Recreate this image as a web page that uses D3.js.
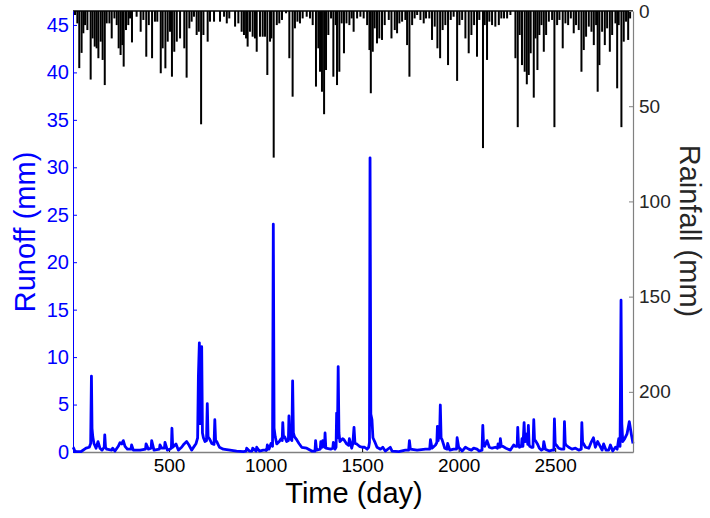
<!DOCTYPE html>
<html>
<meta charset="utf-8">
<title>Runoff and rainfall</title>
<style>
  body { margin: 0; background: #fff; }
  svg text { font-family: "Liberation Sans", Arial, sans-serif; }
  .runoff-line { fill: none; stroke: #0000ff; stroke-width: 2.8; stroke-linejoin: round; }
</style>
<body>
<div id="chart"></div>
<script src="https://d3js.org/d3.v7.min.js"></script>
<script>
var rainfall = [
  [13,2.1],[25,6.5],[35,30],[47,22],[56,11.7],[65,7.4],[77,10],[94,36],[104,14.4],[115,18.7],
  [125,19.6],[134,24.8],[146,16.1],[156,25.7],[167,38.9],[177,6.5],[191,6.5],[203,14.4],[217,3.9],[229,7.4],
  [239,19.6],[249,23.1],[258,17.9],[265,29.2],[277,10],[289,7.4],[298,3.9],[308,16.5],[332,3],[353,10.9],
  [367,4.7],[382,24],[395,7.4],[412,24.8],[427,5.6],[439,5.6],[457,32.7],[467,19.6],[481,30.1],[493,16.1],
  [505,10.9],[515,34.5],[527,21.4],[540,16.1],[557,14.4],[579,19.6],[591,35],[605,9.1],[617,5.6],[629,3],
  [643,12.6],[654,10.9],[666,59.5],[678,12.6],[700,16.1],[712,5.6],[733,5.6],[764,5.6],[785,3],[799,6.5],
  [812,3.9],[842,8.2],[859,6.5],[876,10.9],[888,12.6],[899,14.4],[907,18.7],[919,10.9],[933,13.5],[945,14.4],
  [954,21.4],[971,13.5],[985,13.5],[997,13.5],[1009,33.6],[1023,16.1],[1030,14.4],[1042,77],[1058,7.4],[1071,6.5],
  [1085,4.7],[1106,1.2],[1123,24.8],[1140,45],[1152,9.1],[1165,5.6],[1178,6.5],[1192,3.9],[1213,3],[1230,3.9],
  [1244,7.4],[1261,39.7],[1273,19.6],[1282,31.9],[1292,42.4],[1303,54.2],[1313,31],[1325,12.6],[1339,3.9],[1351,34.5],
  [1363,7.4],[1370,38.9],[1382,31.9],[1394,6.5],[1406,22.2],[1419,6.5],[1434,7.4],[1446,3.9],[1456,10.9],[1474,3.9],
  [1491,3],[1508,3.9],[1526,7.4],[1538,20.5],[1545,43.2],[1555,21.4],[1565,9.1],[1577,17],[1589,14.4],[1603,15.2],
  [1617,7.4],[1638,4.7],[1652,14.4],[1669,10],[1681,11.7],[1693,6.5],[1707,5.6],[1724,4.7],[1733,17.9],[1745,34.5],
  [1759,7.4],[1772,3.9],[1785,2.1],[1802,4.7],[1819,6.5],[1831,3.9],[1848,3.9],[1862,15.2],[1876,8.2],[1890,19.6],
  [1904,24.8],[1917,10],[1931,7.4],[1945,28.4],[1959,4.7],[1974,3],[1992,36.7],[2004,7.4],[2018,4.7],[2035,14.4],
  [2052,22.2],[2066,12.6],[2080,7.4],[2095,24],[2107,4.7],[2126,72],[2135,7.4],[2147,25.7],[2159,5.6],[2173,7.4],
  [2190,8.2],[2208,7.4],[2221,3.9],[2235,3.9],[2251,3.9],[2268,2.1],[2294,24.8],[2306,61],[2316,12.6],[2328,28.4],
  [2342,31.9],[2353,38.5],[2363,33.6],[2373,22.2],[2389,45.5],[2398,14.4],[2408,31],[2418,12.6],[2429,7.4],[2441,21.4],
  [2453,12.6],[2467,5.6],[2484,4.7],[2496,61],[2510,7.4],[2522,4.7],[2539,19.6],[2553,6.5],[2567,7.4],[2581,3.9],
  [2596,11.7],[2608,7.4],[2622,10],[2636,31.9],[2648,20.5],[2660,13.5],[2674,8.2],[2688,10.9],[2700,17.9],[2712,7.4],
  [2720,42.4],[2729,28.4],[2743,10.9],[2757,17.9],[2769,9.1],[2783,21.4],[2795,12.6],[2812,6.5],[2821,40.6],[2829,7.4],
  [2843,61],[2855,16.1],[2867,5.6],[2878,15.2],[2888,3.9]
];

// simulated runoff (day, mm)
var runoff = [
  [3,0.5],[6,0.4],[12,0.1],[22,0.03],[45,0.05],[70,0.4],[87,0.5],[94,0.9],[98,8.0],[101,2.5],
  [105,1.6],[111,0.9],[122,0.4],[132,1.1],[142,0.4],[153,0.2],[164,0.5],[167,1.8],[171,0.5],[177,0.3],
  [203,0.2],[208,0.4],[220,0.1],[237,0.6],[246,0.98],[255,0.85],[263,1.2],[272,0.6],[284,0.3],[303,0.3],
  [306,0.74],[315,0.2],[350,0.2],[378,0.3],[381,0.85],[393,0.3],[407,0.4],[410,1.2],[422,0.2],[450,0.3],
  [453,0.74],[462,0.4],[476,0.4],[479,1.0],[491,0.2],[505,0.3],[512,0.4],[515,2.5],[519,0.5],[536,0.85],
  [548,0.2],[565,0.5],[578,0.85],[591,1.1],[603,0.74],[617,0.2],[640,0.9],[648,1.5],[652,8],[657,11.5],
  [661,3],[665,3],[669,11.1],[673,2],[678,1.5],[686,1.1],[694,1.2],[698,5.1],[702,1.6],[709,1.4],
  [721,0.9],[733,0.8],[737,3.4],[741,1.2],[747,1.1],[761,0.5],[781,0.3],[816,0.2],[850,0.1],[885,0.05],
  [899,0.1],[902,0.4],[916,0.1],[930,0.1],[933,0.4],[945,0.2],[951,0.1],[954,0.5],[968,0.1],[988,0.2],
  [1006,0.2],[1009,0.74],[1018,0.3],[1028,0.9],[1036,0.6],[1040,24],[1044,2.5],[1050,1.6],[1058,0.85],[1071,1.1],
  [1080,1.4],[1086,1.2],[1089,3.1],[1093,1.5],[1099,1.6],[1109,1.1],[1118,1.2],[1121,3.8],[1125,1.5],[1130,1.4],
  [1136,1.2],[1140,7.5],[1144,2],[1150,1.6],[1161,1.3],[1173,0.9],[1187,0.5],[1213,0.4],[1239,0.1],[1256,0.1],
  [1259,1.2],[1264,0.2],[1283,0.3],[1286,1.1],[1292,0.5],[1296,1.2],[1305,0.5],[1308,2.0],[1312,0.4],[1337,0.3],
  [1348,0.4],[1351,1.0],[1359,0.3],[1365,0.5],[1368,4.1],[1372,1.5],[1376,9],[1380,2],[1385,1.1],[1399,1.4],
  [1406,1.3],[1420,0.85],[1430,0.7],[1434,1.4],[1446,0.4],[1452,0.9],[1458,2.6],[1463,0.9],[1472,0.85],[1486,0.6],
  [1500,0.5],[1513,0.5],[1526,0.3],[1534,0.5],[1538,1.0],[1541,31],[1545,4],[1551,3.4],[1556,1.5],[1565,1.1],
  [1577,0.5],[1595,0.3],[1607,0.5],[1620,0.1],[1646,0.5],[1655,0.1],[1690,0.05],[1724,0.2],[1741,0.2],[1745,1.2],
  [1750,0.3],[1785,0.2],[1828,0.3],[1850,0.3],[1854,1.3],[1862,0.4],[1880,0.74],[1887,1.0],[1890,2.7],[1894,1.2],
  [1897,2.5],[1901,1.5],[1905,4.95],[1909,1.5],[1914,1.3],[1928,0.4],[1940,0.3],[1943,0.9],[1954,0.2],[1974,0.3],
  [1989,0.3],[1992,1.5],[2000,0.5],[2018,0.1],[2035,0.5],[2052,0.3],[2066,0.2],[2078,0.4],[2095,0.3],[2107,0.1],
  [2121,0.2],[2125,2.8],[2129,0.8],[2135,0.6],[2147,1.2],[2159,0.5],[2173,0.4],[2190,0.5],[2201,0.4],[2204,0.85],
  [2213,0.5],[2216,1.4],[2221,0.6],[2228,0.6],[2245,0.4],[2268,0.2],[2285,0.74],[2294,0.6],[2303,0.6],[2306,2.6],
  [2310,0.8],[2315,0.5],[2325,0.6],[2328,1.4],[2333,0.6],[2339,3.1],[2343,1.1],[2346,1.1],[2353,1.9],[2358,0.8],
  [2361,2.8],[2365,0.8],[2368,0.6],[2377,0.5],[2385,0.5],[2389,3.4],[2393,1.2],[2398,1.2],[2408,0.85],[2418,0.4],
  [2429,0.2],[2437,0.3],[2441,1.1],[2449,0.3],[2470,0.1],[2484,0.2],[2493,0.2],[2496,3.5],[2500,0.9],[2505,0.74],
  [2518,0.4],[2532,0.3],[2545,0.3],[2548,3.2],[2552,0.9],[2556,0.74],[2570,0.5],[2587,0.3],[2605,0.4],[2622,0.2],
  [2635,0.3],[2638,3.1],[2642,1.0],[2646,0.9],[2657,0.5],[2674,0.4],[2688,1.1],[2698,1.5],[2708,0.5],[2720,1.1],
  [2729,0.74],[2743,0.2],[2751,0.85],[2763,0.2],[2777,0.2],[2786,0.74],[2798,0.1],[2812,0.5],[2821,0.3],[2829,1.4],
  [2836,0.6],[2841,16],[2845,3],[2850,1.1],[2860,1.4],[2872,1.9],[2884,3.2],[2895,1.8],[2903,0.9]
];

var timeTicks = [500, 1000, 1500, 2000, 2500];
var runoffTicks = [0, 5, 10, 15, 20, 25, 30, 35, 40, 45];
var rainTicks = [0, 50, 100, 150, 200];

var width = 710, height = 518;
var margin = {top: 11, right: 77, bottom: 66, left: 73};
var innerW = width - margin.left - margin.right,
    innerH = height - margin.top - margin.bottom;

var svg = d3.select("#chart")
            .append("svg")
            .attr("width", width)
            .attr("height", height);

var g = svg.append("g")
           .attr("transform", "translate(" + margin.left + "," + margin.top + ")");

var x = d3.scaleLinear().domain([2.5, 2903]).range([0, innerW]);
var yRun = d3.scaleLinear().domain([0, 46.47]).range([innerH, 0]);
var yRain = d3.scaleLinear().domain([0, 231.6]).range([0, innerH]);

// rainfall bars hang from the top
g.append("g")
  .attr("class", "rain")
  .selectAll("rect")
  .data(rainfall)
  .enter().append("rect")
    .attr("x", function(d) { return x(d[0]) - 1; })
    .attr("y", 0)
    .attr("width", 2)
    .attr("height", function(d) { return yRain(d[1]); })
    .style("fill", "#000");

g.append("line")
  .attr("x1", 0).attr("x2", innerW)
  .attr("y1", 0).attr("y2", 0)
  .style("stroke", "#000")
  .style("stroke-width", 1.5);

// bottom axis (grey)
var xAxis = g.append("g")
  .attr("transform", "translate(0," + innerH + ")")
  .call(d3.axisBottom(x).tickValues(timeTicks).tickFormat(d3.format("d"))
          .tickSizeInner(-4).tickSizeOuter(0).tickPadding(7));
xAxis.select(".domain").style("stroke", "#808080").style("stroke-width", 1.6);
xAxis.selectAll(".tick line").style("stroke", "#000");
xAxis.selectAll("text").style("font-size", "19px").style("fill", "#000");

// runoff line
var line = d3.line()
  .x(function(d) { return x(d[0]); })
  .y(function(d) { return yRun(d[1]); });

g.append("path")
  .datum(runoff)
  .attr("class", "runoff-line")
  .attr("d", line);

// left axis (blue)
var yAxisL = g.append("g")
  .call(d3.axisLeft(yRun).tickValues(runoffTicks).tickSizeInner(-4).tickSizeOuter(0).tickPadding(4));
yAxisL.select(".domain").style("stroke", "#0000ff");
yAxisL.selectAll(".tick line").style("stroke", "#0000ff");
yAxisL.selectAll("text").style("font-size", "20px").style("fill", "#0000ff");

// right axis (grey)
var yAxisR = g.append("g")
  .attr("transform", "translate(" + innerW + ",0)")
  .call(d3.axisRight(yRain).tickValues(rainTicks).tickSizeInner(-4).tickSizeOuter(0).tickPadding(6));
yAxisR.select(".domain").style("stroke", "#808080").style("stroke-width", 1.2);
yAxisR.selectAll(".tick line").style("stroke", "#808080");
yAxisR.selectAll("text").style("font-size", "19px").style("fill", "#262626");

// axis titles
svg.append("text")
  .attr("x", margin.left + innerW / 2 + 1)
  .attr("y", 503)
  .attr("text-anchor", "middle")
  .style("font-size", "29px")
  .style("fill", "#000")
  .text("Time (day)");

svg.append("text")
  .attr("transform", "translate(35,232) rotate(-90)")
  .attr("text-anchor", "middle")
  .style("font-size", "29px")
  .style("fill", "#0000ff")
  .text("Runoff (mm)");

svg.append("text")
  .attr("transform", "translate(680,231) rotate(90)")
  .attr("text-anchor", "middle")
  .style("font-size", "29px")
  .style("fill", "#262626")
  .text("Rainfall (mm)");
</script>
</body>
</html>
